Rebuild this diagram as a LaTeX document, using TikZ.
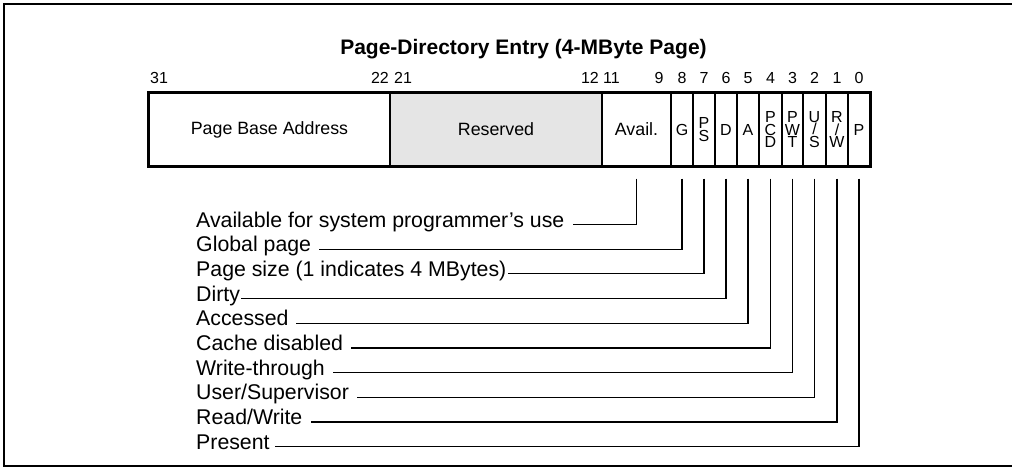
\documentclass[tikz,border=0pt]{standalone}
\usepackage{fontspec}
\setmainfont{Liberation Sans}

\begin{document}
\begin{tikzpicture}[x=1pt, y=-1pt,
    cell/.style={rectangle, draw, line width=1.2pt, minimum height=73pt, inner sep=0pt, font=\fontsize{17.8}{21}\selectfont},
    stack/.style={cell, align=center, font=\fontsize{16}{12.6}\selectfont},
    bitnum/.style={anchor=base, inner sep=0pt, font=\fontsize{16}{18}\selectfont},
    lbl/.style={anchor=mid west, inner sep=0pt, font=\fontsize{21.3}{25}\selectfont},
    leader/.style={line width=1.1pt}]

\useasboundingbox (0,0) rectangle (1012,467);

% frame round the figure
\draw[line width=2pt] (1012,4.3) -- (4,4.3) -- (4,466) -- (1012,466);

% Heres the title
\node[anchor=base, inner sep=0pt, font=\fontsize{21}{25}\selectfont\bfseries] (title) at (523.5,54) {Page-Directory Entry (4-MByte Page)};

% the wide fields
\foreach \name/\l/\r/\col/\txt in {pba/149/390/white/Page Base Address, res/390/602/gray!20/Reserved, avl/602/671/white/Avail.} {
    \node[cell, fill=\col, minimum width={(\r-\l)*1pt}] (\name) at ({(\l+\r)/2},129.5) {\txt};
}

% and the one bit fields
\foreach \name/\l/\r/\txt in {g/671/693/G, ps/693/715/{P\\S}, d/715/737/D, a/737/759/A, pcd/759/782/{P\\C\\D},
                              pwt/782/803/{P\\W\\T}, us/803/826/{U\\/\\S}, rw/826/848/{R\\/\\W}, p/848/870/P} {
    \node[stack, minimum width={(\r-\l)*1pt}] (\name) at ({(\l+\r)/2},129.5) {\txt};
}

% thick border of the entry
\draw[line width=2.7pt] (pba.north west) rectangle (p.south east);

% bit numbers
\node[bitnum, anchor=base west] (b31) at (150,83) {31};
\node[bitnum, anchor=base east] (b22) at (389,83) {22};
\node[bitnum, anchor=base west] (b21) at (394,83) {21};
\node[bitnum, anchor=base east] (b12) at (599,83) {12};
\node[bitnum, anchor=base west] (b11) at (603,83) {11};
\node[bitnum] (b9) at (659,83) {9};
\foreach \n/\c in {8/g, 7/ps, 6/d, 5/a, 4/pcd, 3/pwt, 2/us, 1/rw, 0/p} {
    \node[bitnum] (b\n) at (\c |- 0,83) {\n};
}

% the flag names and their leaders
\foreach \i/\c/\gap/\txt in {0/avl/8/{Available for system programmer's use}, 1/g/8/{Global page},
                             2/ps/1/{Page size (1 indicates 4 MBytes)}, 3/d/1/{Dirty}, 4/a/7/{Accessed},
                             5/pcd/8/{Cache disabled}, 6/pwt/8/{Write-through}, 7/us/8/{User/Supervisor},
                             8/rw/8/{Read/Write}, 9/p/5/{Present}} {
    \node[lbl] (l\c) at (196,224.6+24.67*\i) {\txt};
    \draw[leader] ([yshift=-12pt]\c.south) |- ([xshift=\gap pt]l\c.mid east);
}
\end{tikzpicture}
\end{document}
